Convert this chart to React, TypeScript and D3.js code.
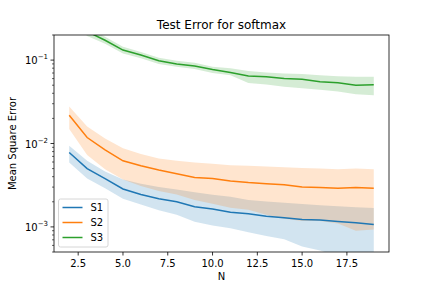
import { useEffect, useRef } from "react";
import * as d3 from "d3";

// N = 2..19
const ns = d3.range(2, 20);

const s1Mean = [0.0078, 0.005, 0.0038, 0.00285, 0.00244, 0.00217, 0.002, 0.00174, 0.00164, 0.0015, 0.00144, 0.00134, 0.00129, 0.00123, 0.00121, 0.00116, 0.00112, 0.00107];
const s1Lo = [0.0059, 0.0038, 0.0029, 0.00217, 0.00185, 0.00158, 0.0014, 0.00115, 0.00104, 0.00096, 0.00086, 0.00078, 0.00071, 0.00058, 0.00052, 0.00045, 0.0004, 0.0004];
const s1Hi = [0.0094, 0.0062, 0.0046, 0.0037, 0.0033, 0.003, 0.0028, 0.0026, 0.00243, 0.0023, 0.0021, 0.00202, 0.00195, 0.00188, 0.00182, 0.00177, 0.00172, 0.00169];

const s2Mean = [0.0218, 0.0118, 0.0084, 0.0062, 0.0054, 0.0048, 0.00435, 0.0039, 0.0038, 0.00355, 0.0034, 0.0033, 0.0032, 0.003, 0.00297, 0.0029, 0.00297, 0.0029];
const s2Lo = [0.0149, 0.0073, 0.0049, 0.0037, 0.0031, 0.0027, 0.00244, 0.0021, 0.0019, 0.0017, 0.0016, 0.0014, 0.00125, 0.00118, 0.00118, 0.0011, 0.0009, 0.00093];
const s2Hi = [0.0277, 0.016, 0.0115, 0.0088, 0.0075, 0.0066, 0.0062, 0.0059, 0.0057, 0.0055, 0.0054, 0.0053, 0.0052, 0.0051, 0.005, 0.0049, 0.005, 0.0049];

const s3Mean = [0.35, 0.22, 0.173, 0.132, 0.115, 0.098, 0.09, 0.085, 0.077, 0.071, 0.0644, 0.063, 0.06, 0.059, 0.055, 0.0535, 0.05, 0.0505];
const s3Lo = [0.3, 0.195, 0.157, 0.12, 0.105, 0.09, 0.083, 0.078, 0.07, 0.066, 0.053, 0.051, 0.048, 0.046, 0.044, 0.042, 0.039, 0.038];
const s3Hi = [0.4, 0.25, 0.19, 0.145, 0.125, 0.107, 0.098, 0.093, 0.083, 0.08, 0.074, 0.071, 0.069, 0.068, 0.066, 0.064, 0.063, 0.063];

const seriesNames = ["S1", "S2", "S3"];
const colors = ["#1f77b4", "#ff7f0e", "#2ca02c"];

const xTicks = [2.5, 5.0, 7.5, 10.0, 12.5, 15.0, 17.5];
const yMajor = [1e-3, 1e-2, 1e-1];

export default function App() {
  const ref = useRef<SVGSVGElement>(null);

  useEffect(() => {
    if (!ref.current) return;
    const width = 432;
    const height = 288;
    const m = { left: 54, right: 389, top: 35, bottom: 252 };
    const font = "DejaVu Sans, sans-serif";

    const svg = d3.select(ref.current);
    svg.selectAll("*").remove();

    svg.append("rect").attr("width", width).attr("height", height).attr("fill", "white");

    const x = d3.scaleLinear().domain([1.15, 19.85]).range([m.left, m.right]);
    const y = d3.scaleLog().domain([5e-4, 0.2]).range([m.bottom, m.top]);

    svg
      .append("defs")
      .append("clipPath")
      .attr("id", "plotclip")
      .append("rect")
      .attr("x", m.left)
      .attr("y", m.top)
      .attr("width", m.right - m.left)
      .attr("height", m.bottom - m.top);

    const plot = svg.append("g").attr("clip-path", "url(#plotclip)");

    const all = [
      { mean: s1Mean, lo: s1Lo, hi: s1Hi },
      { mean: s2Mean, lo: s2Lo, hi: s2Hi },
      { mean: s3Mean, lo: s3Lo, hi: s3Hi },
    ];

    // bands first, then lines
    all.forEach((s, i) => {
      const area = d3
        .area<number>()
        .x((_, j) => x(ns[j]))
        .y0((_, j) => y(s.lo[j]))
        .y1((_, j) => y(s.hi[j]));
      plot
        .append("path")
        .attr("d", area(s.mean) as string)
        .attr("fill", colors[i])
        .attr("fill-opacity", 0.2);
    });

    all.forEach((s, i) => {
      const line = d3
        .line<number>()
        .x((_, j) => x(ns[j]))
        .y((d) => y(d));
      plot
        .append("path")
        .attr("d", line(s.mean) as string)
        .attr("fill", "none")
        .attr("stroke", colors[i])
        .attr("stroke-width", 1.5);
    });

    // axes frame
    svg
      .append("rect")
      .attr("x", m.left)
      .attr("y", m.top)
      .attr("width", m.right - m.left)
      .attr("height", m.bottom - m.top)
      .attr("fill", "none")
      .attr("stroke", "black")
      .attr("stroke-width", 0.8);

    // x ticks
    const xg = svg.append("g");
    xTicks.forEach((t) => {
      xg.append("line")
        .attr("x1", x(t))
        .attr("x2", x(t))
        .attr("y1", m.bottom)
        .attr("y2", m.bottom + 3.5)
        .attr("stroke", "black")
        .attr("stroke-width", 0.8);
      xg.append("text")
        .attr("x", x(t))
        .attr("y", m.bottom + 15)
        .attr("text-anchor", "middle")
        .attr("font-family", font)
        .attr("font-size", 10)
        .text(t.toFixed(1));
    });

    // y minor ticks
    const [y0, y1] = y.domain();
    const minor: number[] = [];
    for (let e = -4; e <= 0; e++) {
      for (let k = 2; k <= 9; k++) {
        const v = k * Math.pow(10, e);
        if (v >= y0 && v <= y1) minor.push(v);
      }
    }
    const yg = svg.append("g");
    minor.forEach((v) => {
      yg.append("line")
        .attr("x1", m.left - 2)
        .attr("x2", m.left)
        .attr("y1", y(v))
        .attr("y2", y(v))
        .attr("stroke", "black")
        .attr("stroke-width", 0.6);
    });
    yMajor.forEach((v) => {
      yg.append("line")
        .attr("x1", m.left - 3.5)
        .attr("x2", m.left)
        .attr("y1", y(v))
        .attr("y2", y(v))
        .attr("stroke", "black")
        .attr("stroke-width", 0.8);
      const txt = yg
        .append("text")
        .attr("x", m.left - 6)
        .attr("y", y(v) + 4)
        .attr("text-anchor", "end")
        .attr("font-family", font)
        .attr("font-size", 10);
      txt.append("tspan").text("10");
      txt
        .append("tspan")
        .attr("dy", -5)
        .attr("font-size", 7)
        .text("\u2212" + Math.round(-Math.log10(v)));
    });

    // labels
    svg
      .append("text")
      .attr("x", (m.left + m.right) / 2)
      .attr("y", 29)
      .attr("text-anchor", "middle")
      .attr("font-family", font)
      .attr("font-size", 12)
      .text("Test Error for softmax");
    svg
      .append("text")
      .attr("x", (m.left + m.right) / 2)
      .attr("y", 280)
      .attr("text-anchor", "middle")
      .attr("font-family", font)
      .attr("font-size", 10)
      .text("N");
    svg
      .append("text")
      .attr("transform", `translate(16,${(m.top + m.bottom) / 2}) rotate(-90)`)
      .attr("text-anchor", "middle")
      .attr("font-family", font)
      .attr("font-size", 10)
      .text("Mean Square Error");

    // legend
    const lg = svg.append("g").attr("transform", `translate(${m.left + 4.5},${199})`);
    lg.append("rect")
      .attr("width", 49.5)
      .attr("height", 48)
      .attr("rx", 2)
      .attr("fill", "white")
      .attr("fill-opacity", 0.8)
      .attr("stroke", "#cccccc")
      .attr("stroke-width", 0.8);
    seriesNames.forEach((name, i) => {
      const cy = 8.5 + i * 15;
      lg.append("line")
        .attr("x1", 4)
        .attr("x2", 24)
        .attr("y1", cy)
        .attr("y2", cy)
        .attr("stroke", colors[i])
        .attr("stroke-width", 1.5);
      lg.append("text")
        .attr("x", 32)
        .attr("y", cy + 3.5)
        .attr("font-family", font)
        .attr("font-size", 10)
        .text(name);
    });
  }, []);

  return (
    <svg
      ref={ref}
      width={432}
      height={288}
      style={{ position: "absolute", left: 0, top: 0 }}
    />
  );
}
